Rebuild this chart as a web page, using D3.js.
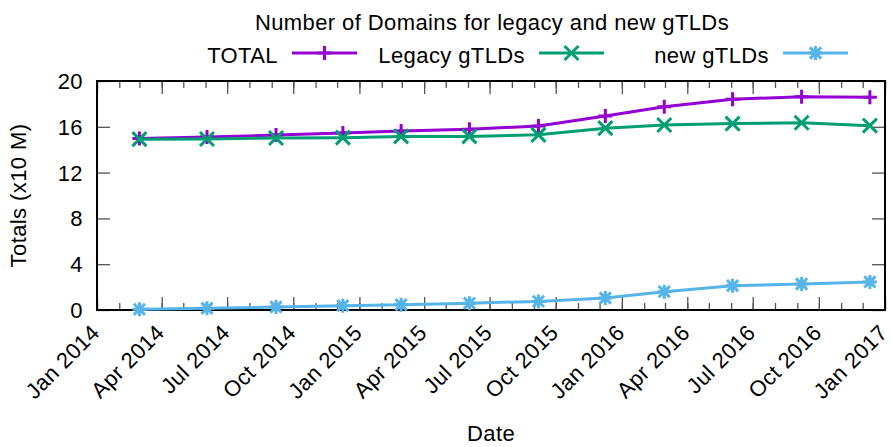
<!DOCTYPE html>
<html>
<head>
<meta charset="utf-8">
<script src="https://cdn.jsdelivr.net/npm/d3@7"></script>
<style>
  body { margin: 0; background: #fff; }
  text { font-family: "Liberation Sans", Arial, sans-serif; fill: #000; letter-spacing: 0.4px; }
</style>
</head>
<body>
<svg id="chart"></svg>
<script>
// values, in units of 10 M domains
const dates = ["2014-03-01","2014-06-03","2014-09-07","2014-12-09","2015-02-28","2015-06-03",
               "2015-09-07","2015-12-09","2016-02-29","2016-06-03","2016-09-07","2016-12-11"];
const total    = [14.98, 15.10, 15.28, 15.45, 15.63, 15.78, 16.07, 16.95, 17.76, 18.40, 18.63, 18.57];
const legacy   = [14.92, 14.94, 15.02, 15.05, 15.16, 15.16, 15.30, 15.88, 16.16, 16.28, 16.35, 16.10];
const newGtlds = [0.06, 0.15, 0.26, 0.38, 0.46, 0.60, 0.75, 1.05, 1.60, 2.12, 2.27, 2.45];
const yTicks = [0, 4, 8, 12, 16, 20];
const seriesNames = ["TOTAL", "Legacy gTLDs", "new gTLDs"];
const seriesColors = ["#9400d3", "#009e73", "#56b4e9"];

const W = 893, H = 447;
const m = {left: 97, right: 8, top: 81, bottom: 137};
const iw = W - m.left - m.right, ih = H - m.top - m.bottom;
const fs = 22;

const parse = d3.timeParse("%Y-%m-%d");
const series = [total, legacy, newGtlds].map((vals, k) => ({
  name: seriesNames[k], color: seriesColors[k], shape: k,
  values: vals.map((v, i) => ({date: parse(dates[i]), v: v}))
}));

const svg = d3.select("#chart").attr("width", W).attr("height", H);

const x = d3.scaleTime()
  .domain([new Date(2014, 0, 1), new Date(2017, 0, 1)])
  .range([m.left, m.left + iw]);
const y = d3.scaleLinear().domain([0, 20]).range([m.top + ih, m.top]);

const tickCol = "#555";

// inward ticks on all four sides
function ticks(gen, size, tr) {
  const g = svg.append("g").attr("transform", tr).call(gen.tickSize(size).tickFormat(""));
  g.select(".domain").remove();
  g.selectAll("line").attr("stroke", tickCol).attr("stroke-width", 1.3);
  return g;
}
ticks(d3.axisBottom(x).ticks(d3.timeMonth.every(1)), -7, `translate(0,${m.top + ih})`);
ticks(d3.axisTop(x).ticks(d3.timeMonth.every(1)), -7, `translate(0,${m.top})`);
ticks(d3.axisBottom(x).ticks(d3.timeMonth.every(3)), -13, `translate(0,${m.top + ih})`);
ticks(d3.axisTop(x).ticks(d3.timeMonth.every(3)), -13, `translate(0,${m.top})`);
ticks(d3.axisLeft(y).tickValues(yTicks), -13, `translate(${m.left},0)`);
ticks(d3.axisRight(y).tickValues(yTicks), -13, `translate(${m.left + iw},0)`);

// x tick labels, rotated
const fmt = d3.timeFormat("%b %Y");
svg.append("g").selectAll("text")
  .data(x.ticks(d3.timeMonth.every(3)))
  .enter().append("text")
  .attr("transform", d => `translate(${x(d) + 4},${m.top + ih + 24}) rotate(-45)`)
  .attr("text-anchor", "end")
  .style("font-size", fs + "px")
  .text(d => fmt(d));

// y tick labels
svg.append("g").selectAll("text")
  .data(yTicks)
  .enter().append("text")
  .attr("x", m.left - 14)
  .attr("y", d => y(d))
  .attr("dy", "0.36em")
  .attr("text-anchor", "end")
  .style("font-size", fs + "px")
  .text(d => d);

// frame
svg.append("rect")
  .attr("x", m.left).attr("y", m.top).attr("width", iw).attr("height", ih)
  .attr("fill", "none").attr("stroke", "#000").attr("stroke-width", 2);

// markers: + , x , *
const s = 7;
const shapes = [
  `M${-s},0H${s}M0,${-s}V${s}`,
  `M${-s},${-s}L${s},${s}M${-s},${s}L${s},${-s}`,
  `M${-s},0H${s}M0,${-s}V${s}M${-s*0.8},${-s*0.8}L${s*0.8},${s*0.8}M${-s*0.8},${s*0.8}L${s*0.8},${-s*0.8}`
];

const line = d3.line().x(d => x(d.date)).y(d => y(d.v));

series.forEach(sr => {
  svg.append("path")
    .datum(sr.values)
    .attr("d", line)
    .attr("fill", "none")
    .attr("stroke", sr.color)
    .attr("stroke-width", 3)
    .attr("stroke-linejoin", "round");
  svg.append("g").selectAll("path")
    .data(sr.values)
    .enter().append("path")
    .attr("transform", d => `translate(${x(d.date)},${y(d.v)})`)
    .attr("d", shapes[sr.shape])
    .attr("fill", "none")
    .attr("stroke", sr.color)
    .attr("stroke-width", 3);
});

// title
svg.append("text")
  .attr("x", 492).attr("y", 30)
  .attr("text-anchor", "middle")
  .style("font-size", fs + "px")
  .text("Number of Domains for legacy and new gTLDs");

// legend
const legendStart = [292, 539, 783];
series.forEach((sr, k) => {
  const x0 = legendStart[k];
  const g = svg.append("g");
  g.append("text")
    .attr("x", x0 - 14).attr("y", 63)
    .attr("text-anchor", "end")
    .style("font-size", fs + "px")
    .text(sr.name);
  g.append("line")
    .attr("x1", x0).attr("x2", x0 + 65).attr("y1", 53).attr("y2", 53)
    .attr("stroke", sr.color).attr("stroke-width", 3);
  g.append("path")
    .attr("transform", `translate(${x0 + 32.5},53)`)
    .attr("d", shapes[sr.shape])
    .attr("fill", "none").attr("stroke", sr.color).attr("stroke-width", 3);
});

// axis titles
svg.append("text")
  .attr("transform", `translate(26,${m.top + ih / 2}) rotate(-90)`)
  .attr("text-anchor", "middle")
  .style("font-size", fs + "px")
  .text("Totals (x10 M)");

svg.append("text")
  .attr("x", 491).attr("y", 441)
  .attr("text-anchor", "middle")
  .style("font-size", fs + "px")
  .text("Date");
</script>
</body>
</html>
